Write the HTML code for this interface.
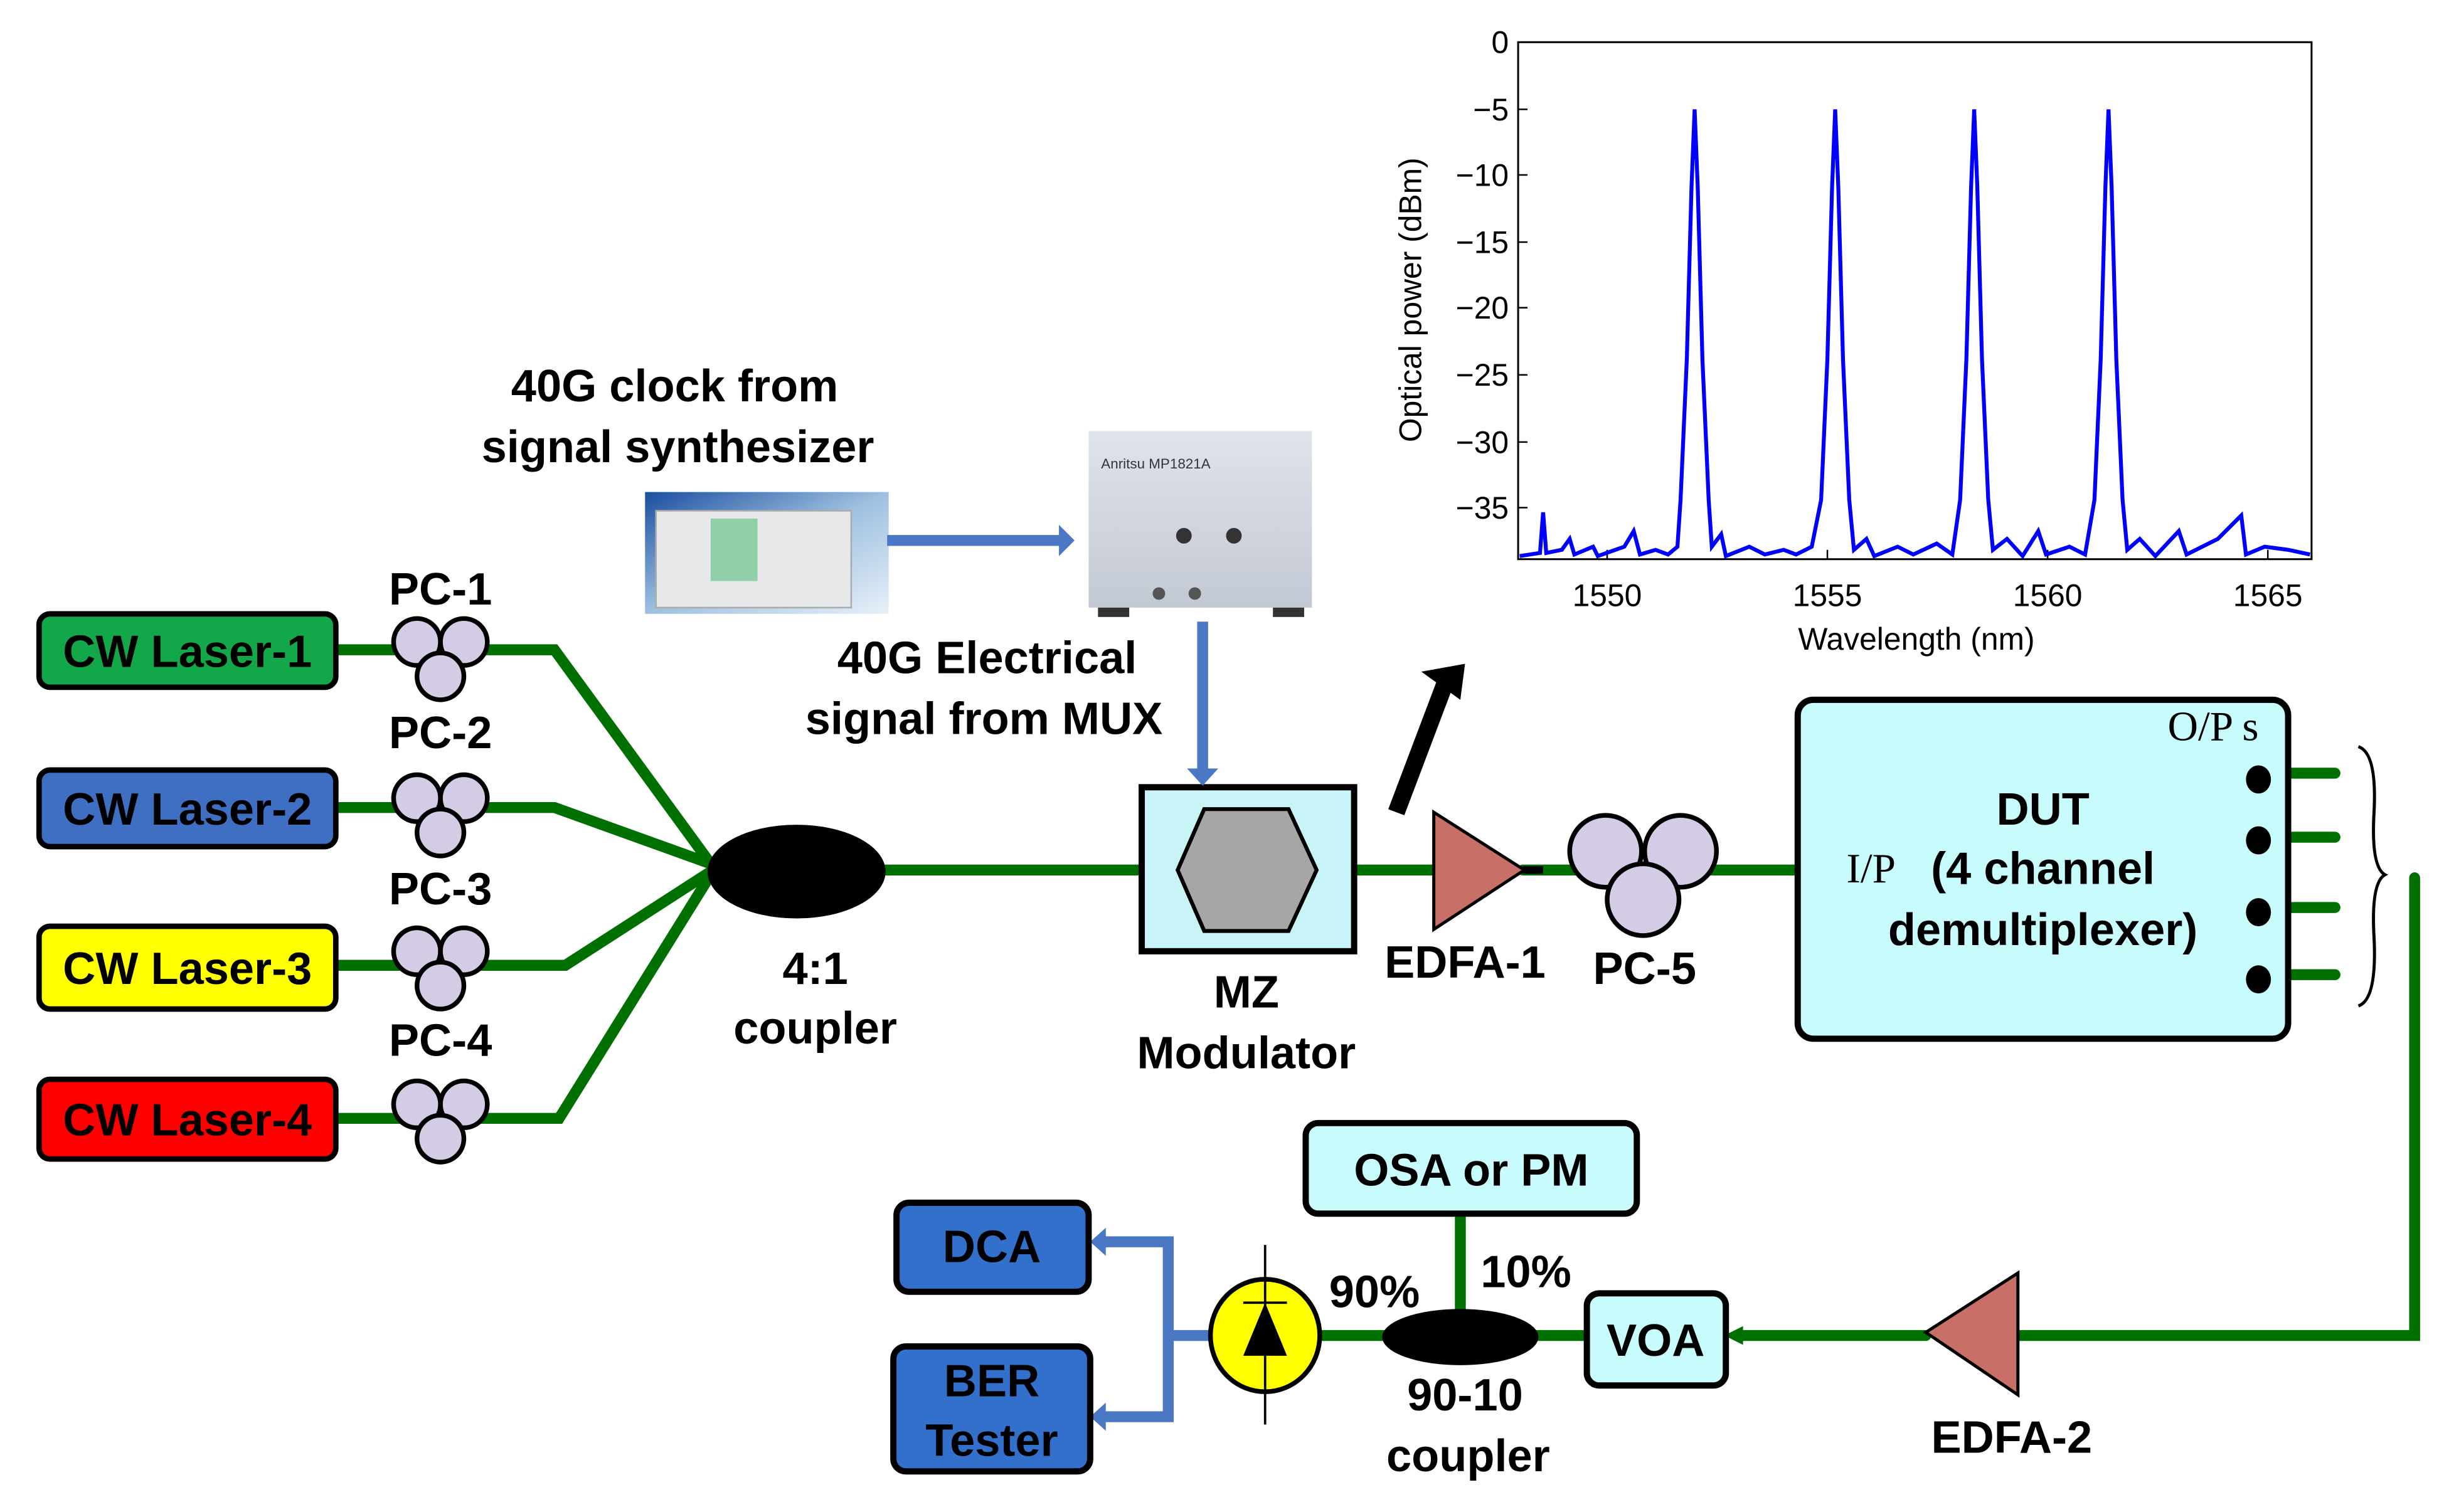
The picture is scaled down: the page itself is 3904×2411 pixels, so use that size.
<!DOCTYPE html>
<html><head><meta charset="utf-8"><style>html,body{margin:0;padding:0;background:#fff}svg{display:block}</style></head>
<body>
<svg width="3904" height="2411" viewBox="0 0 1568 968" preserveAspectRatio="none" xmlns="http://www.w3.org/2000/svg" font-family="'Liberation Sans', sans-serif">
<defs>
<linearGradient id="syn" x1="0" y1="0" x2="1" y2="1"><stop offset="0" stop-color="#1a4fa0"/><stop offset="0.5" stop-color="#9ec0e0"/><stop offset="1" stop-color="#e8f0f8"/></linearGradient>
<linearGradient id="mux" x1="0" y1="0" x2="0" y2="1"><stop offset="0" stop-color="#dfe3ea"/><stop offset="1" stop-color="#c3c9d3"/></linearGradient>
</defs>
<g stroke="#007000" stroke-width="7" fill="none" stroke-linecap="round">
<polyline points="215,416 355,416 455,553"/>
<polyline points="215,517 355,517 455,553"/>
<polyline points="215,618 362,618 455,558"/>
<polyline points="215,716 358,716 455,560"/>
<line x1="560" y1="557" x2="732" y2="557"/>
<line x1="867" y1="557" x2="918" y2="557"/>
<line x1="975" y1="557" x2="1010" y2="557"/>
<line x1="1090" y1="557" x2="1150" y2="557"/>
<polyline points="1546,562 1546,855 1290,855"/>
<line x1="1233" y1="855" x2="1112" y2="855"/>
<line x1="1015" y1="855" x2="980" y2="855"/>
<line x1="890" y1="855" x2="845" y2="855"/>
<line x1="935" y1="778" x2="935" y2="838"/>
<line x1="1466" y1="495" x2="1495" y2="495"/>
<line x1="1466" y1="536" x2="1495" y2="536"/>
<line x1="1466" y1="581" x2="1495" y2="581"/>
<line x1="1466" y1="624" x2="1495" y2="624"/>
</g>
<polygon points="1104,855 1116,849 1116,861" fill="#007000"/>
<!-- lasers -->
<g stroke="#000" stroke-width="3.5">
<rect x="25" y="393" width="190" height="47" rx="7" fill="#12a84a"/>
<rect x="25" y="493" width="190" height="49" rx="7" fill="#3f6fc2"/>
<rect x="25" y="593" width="190" height="53" rx="7" fill="#ffff00"/>
<rect x="25" y="691" width="190" height="51" rx="7" fill="#ff0000"/>
</g>
<g font-size="29" font-weight="bold" fill="#000">
<text x="120" y="427" text-anchor="middle">CW Laser-1</text>
<text x="120" y="528" text-anchor="middle">CW Laser-2</text>
<text x="120" y="630" text-anchor="middle">CW Laser-3</text>
<text x="120" y="727" text-anchor="middle">CW Laser-4</text>
<text x="282" y="387" text-anchor="middle">PC-1</text>
<text x="282" y="479" text-anchor="middle">PC-2</text>
<text x="282" y="579" text-anchor="middle">PC-3</text>
<text x="282" y="676" text-anchor="middle">PC-4</text>
<text x="522" y="630" text-anchor="middle">4:1</text>
<text x="522" y="668" text-anchor="middle">coupler</text>
<text x="798" y="645" text-anchor="middle">MZ</text>
<text x="798" y="684" text-anchor="middle">Modulator</text>
<text x="938" y="626" text-anchor="middle">EDFA-1</text>
<text x="1053" y="630" text-anchor="middle">PC-5</text>
<text x="432" y="257" text-anchor="middle">40G clock from</text>
<text x="434" y="296" text-anchor="middle">signal synthesizer</text>
<text x="632" y="431" text-anchor="middle">40G Electrical</text>
<text x="630" y="470" text-anchor="middle">signal from MUX</text>
<text x="1288" y="930" text-anchor="middle">EDFA-2</text>
<text x="938" y="903" text-anchor="middle">90-10</text>
<text x="940" y="942" text-anchor="middle">coupler</text>
<text x="880" y="837" text-anchor="middle">90%</text>
<text x="977" y="824" text-anchor="middle">10%</text>
</g>
<!-- PCs -->
<g fill="#d4cce4" stroke="#000" stroke-width="3">
<circle cx="267" cy="411" r="15"/><circle cx="297" cy="411" r="15"/><circle cx="282" cy="433" r="15"/>
<circle cx="267" cy="511" r="15"/><circle cx="297" cy="511" r="15"/><circle cx="282" cy="533" r="15"/>
<circle cx="267" cy="609" r="15"/><circle cx="297" cy="609" r="15"/><circle cx="282" cy="631" r="15"/>
<circle cx="267" cy="707" r="15"/><circle cx="297" cy="707" r="15"/><circle cx="282" cy="729" r="15"/>
<circle cx="1028" cy="545" r="23"/><circle cx="1076" cy="545" r="23"/><circle cx="1052" cy="576" r="23"/>
</g>
<ellipse cx="510" cy="558" rx="57" ry="30" fill="#000"/>
<!-- MZ -->
<rect x="731" y="504" width="136" height="105" fill="#c8f4f8" stroke="#000" stroke-width="4"/>
<polygon points="771,518 825,518 843,557 825,596 771,596 754,557" fill="#a6a6a6" stroke="#000" stroke-width="2.5"/>
<polygon points="918,520 918,595 976,557" fill="#c87068" stroke="#000" stroke-width="2"/>
<line x1="975" y1="557" x2="988" y2="557" stroke="#000" stroke-width="5"/>
<!-- black arrow -->
<line x1="894" y1="520" x2="925" y2="438" stroke="#000" stroke-width="11"/>
<polygon points="910,430 938,425 935,448" fill="#000"/>
<!-- images -->
<rect x="413" y="315" width="156" height="78" fill="url(#syn)"/>
<rect x="420" y="327" width="125" height="62" fill="#e6e8ea" stroke="#aaa"/>
<rect x="455" y="332" width="30" height="40" fill="#8fd0a8"/>
<rect x="697" y="276" width="143" height="113" fill="url(#mux)"/>
<rect x="703" y="389" width="20" height="6" fill="#333"/><rect x="815" y="389" width="20" height="6" fill="#333"/>
<text x="705" y="300" font-size="9" fill="#334">Anritsu MP1821A</text>
<circle cx="758" cy="343" r="5" fill="#333"/><circle cx="790" cy="343" r="5" fill="#333"/>
<circle cx="742" cy="380" r="4" fill="#555"/><circle cx="765" cy="380" r="4" fill="#555"/>
<!-- blue arrows -->
<line x1="568" y1="346" x2="680" y2="346" stroke="#4a78c4" stroke-width="7"/>
<polygon points="678,336 688,346 678,356" fill="#4a78c4"/>
<line x1="770" y1="398" x2="770" y2="494" stroke="#4a78c4" stroke-width="7"/>
<polygon points="760,492 780,492 770,503" fill="#4a78c4"/>
<g stroke="#4a78c4" stroke-width="7" fill="none">
<polyline points="705,795 748,795 748,907 705,907"/>
<line x1="748" y1="855" x2="776" y2="855"/>
</g>
<polygon points="698,795 708,786 708,804" fill="#4a78c4"/>
<polygon points="698,907 708,898 708,916" fill="#4a78c4"/>
<!-- DUT -->
<rect x="1151" y="448" width="314" height="217" rx="10" fill="#c8fcfc" stroke="#000" stroke-width="4"/>
<g fill="#000"><ellipse cx="1446" cy="499" rx="8" ry="9"/><ellipse cx="1446" cy="538" rx="8" ry="9"/><ellipse cx="1446" cy="584" rx="8" ry="9"/><ellipse cx="1446" cy="627" rx="8" ry="9"/></g>
<text x="1417" y="474" font-size="27" font-family="'Liberation Serif', serif" text-anchor="middle">O/P s</text>
<text x="1198" y="565" font-size="27" font-family="'Liberation Serif', serif" text-anchor="middle">I/P</text>
<text x="1308" y="528" font-size="29" font-weight="bold" text-anchor="middle">DUT</text>
<text x="1308" y="566" font-size="29" font-weight="bold" text-anchor="middle">(4 channel</text>
<text x="1308" y="605" font-size="29" font-weight="bold" text-anchor="middle">demultiplexer)</text>
<path d="M1510,478 Q1522,482 1520,520 Q1518,555 1527,560 Q1518,565 1520,600 Q1522,640 1510,644" fill="none" stroke="#000" stroke-width="2"/>
<!-- EDFA-2 -->
<polygon points="1233,853 1292,815 1292,893" fill="#c87068" stroke="#000" stroke-width="2"/>
<!-- bottom boxes -->
<rect x="1016" y="828" width="89" height="59" rx="8" fill="#c8fcfc" stroke="#000" stroke-width="4"/>
<text x="1060" y="868" font-size="29" font-weight="bold" text-anchor="middle">VOA</text>
<rect x="836" y="719" width="212" height="58" rx="8" fill="#c8fcfc" stroke="#000" stroke-width="4"/>
<text x="942" y="759" font-size="29" font-weight="bold" text-anchor="middle">OSA or PM</text>
<ellipse cx="935" cy="856" rx="50" ry="18" fill="#000"/>
<ellipse cx="810" cy="855" rx="35" ry="36" fill="#ffff00" stroke="#000" stroke-width="3"/>
<line x1="810" y1="797" x2="810" y2="912" stroke="#000" stroke-width="1.5"/>
<line x1="796" y1="834" x2="824" y2="834" stroke="#000" stroke-width="1.5"/>
<polygon points="810,834 796,868 824,868" fill="#000"/>
<rect x="574" y="770" width="123" height="57" rx="8" fill="#3270cc" stroke="#000" stroke-width="4"/>
<text x="635" y="808" font-size="29" font-weight="bold" text-anchor="middle">DCA</text>
<rect x="572" y="862" width="126" height="80" rx="8" fill="#3270cc" stroke="#000" stroke-width="4"/>
<text x="635" y="894" font-size="29" font-weight="bold" text-anchor="middle">BER</text>
<text x="635" y="932" font-size="29" font-weight="bold" text-anchor="middle">Tester</text>
<!-- plot -->
<rect x="972" y="27" width="508" height="331" fill="#fff" stroke="#000" stroke-width="1.2"/>
<g stroke="#000" stroke-width="1">
<line x1="972" y1="27" x2="978" y2="27"/><line x1="972" y1="70" x2="978" y2="70"/><line x1="972" y1="112" x2="978" y2="112"/><line x1="972" y1="155" x2="978" y2="155"/><line x1="972" y1="197" x2="978" y2="197"/><line x1="972" y1="240" x2="978" y2="240"/><line x1="972" y1="283" x2="978" y2="283"/><line x1="972" y1="325" x2="978" y2="325"/>
<line x1="1029" y1="358" x2="1029" y2="352"/><line x1="1170" y1="358" x2="1170" y2="352"/><line x1="1311" y1="358" x2="1311" y2="352"/><line x1="1452" y1="358" x2="1452" y2="352"/>
</g>
<g font-size="20" fill="#000" text-anchor="end">
<text x="966" y="34">0</text><text x="966" y="77">−5</text><text x="966" y="119">−10</text><text x="966" y="162">−15</text><text x="966" y="204">−20</text><text x="966" y="247">−25</text><text x="966" y="290">−30</text><text x="966" y="332">−35</text>
</g>
<g font-size="20" fill="#000" text-anchor="middle">
<text x="1029" y="388">1550</text><text x="1170" y="388">1555</text><text x="1311" y="388">1560</text><text x="1452" y="388">1565</text>
<text x="1227" y="416">Wavelength (nm)</text>
<text transform="translate(910,192) rotate(-90)">Optical power (dBm)</text>
</g>
<path fill="none" stroke="#0000ff" stroke-width="2.5" d="M973,356 L986,354 L988,328 L990,354 L1000,352 L1005,345 L1008,355 L1020,350 L1023,356 L1040,350 L1046,340 L1050,355 L1060,352 L1068,355 L1074,350 L1076,320 L1080,230 L1083,120 L1085,70 L1087,120 L1090,230 L1094,320 L1096,350 L1102,342 L1105,356 L1120,350 L1130,355 L1142,352 L1150,355 L1160,350 L1166,320 L1170,230 L1173,120 L1175,70 L1177,120 L1180,230 L1184,320 L1187,352 L1195,345 L1200,356 L1215,350 L1225,355 L1240,348 L1250,355 L1255,320 L1259,230 L1262,120 L1264,70 L1266,120 L1269,230 L1273,320 L1276,352 L1285,345 L1295,356 L1305,340 L1310,355 L1325,350 L1335,355 L1341,320 L1345,230 L1348,120 L1350,70 L1352,120 L1355,230 L1359,320 L1362,352 L1370,345 L1380,356 L1395,340 L1400,355 L1420,345 L1435,330 L1438,355 L1450,350 L1465,352 L1479,355"/>
</svg>
</body></html>
